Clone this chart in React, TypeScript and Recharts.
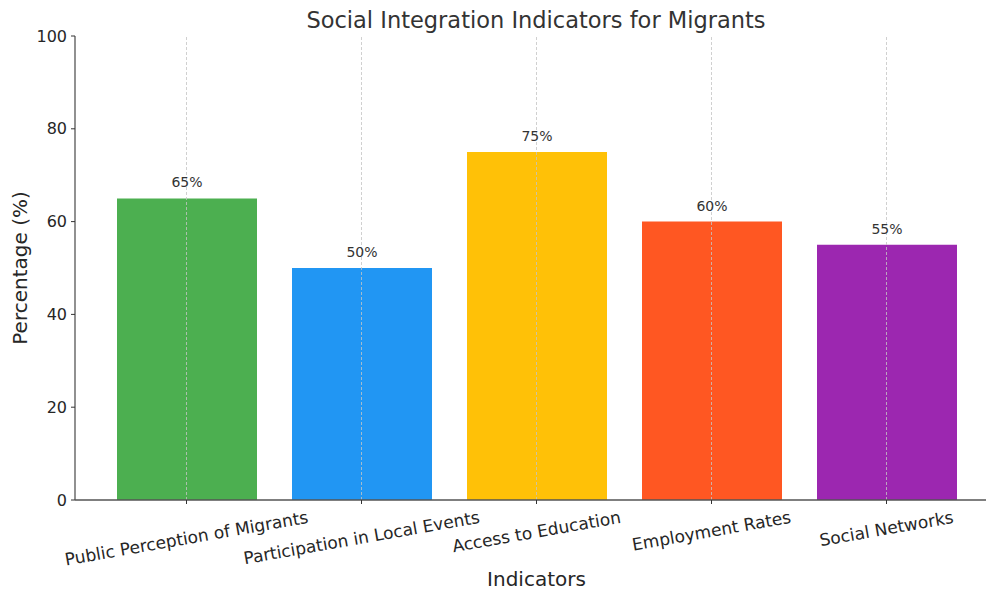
import { BarChart, Bar, XAxis, YAxis, Cell, LabelList, ReferenceLine } from 'recharts';

const categories = [
  'Public Perception of Migrants',
  'Participation in Local Events',
  'Access to Education',
  'Employment Rates',
  'Social Networks',
];
const values = [65, 50, 75, 60, 55];
const barColors = ['#4CAF50', '#2196F3', '#FFC107', '#FF5722', '#9C27B0'];
const yTicks = [0, 20, 40, 60, 80, 100];

const data = categories.map((name, i) => ({ name, value: values[i] }));

const FONT = '"DejaVu Sans", sans-serif';
const TICK_SIZE = 17;
const ROT = 10;

let measureCtx: CanvasRenderingContext2D | null = null;
const textWidth = (s: string) => {
  if (!measureCtx) measureCtx = document.createElement('canvas').getContext('2d');
  if (!measureCtx) return s.length * TICK_SIZE * 0.55;
  measureCtx.font = `${TICK_SIZE}px "DejaVu Sans"`;
  return measureCtx.measureText(s).width;
};

// matplotlib-like rotated label: bbox centred on tick, top of bbox just under the tick
const RotatedTick = (props: { x?: number; y?: number; payload?: { value: string } }) => {
  const { x = 0, y = 0, payload } = props;
  if (!payload) return null;
  const w = textWidth(payload.value);
  const rad = (ROT * Math.PI) / 180;
  const h = TICK_SIZE * 1.17;
  const cy = y + (w * Math.sin(rad) + h * Math.cos(rad)) / 2;
  return (
    <text
      x={x}
      y={cy}
      textAnchor="middle"
      dominantBaseline="central"
      fontSize={TICK_SIZE}
      fill="#262626"
      transform={`rotate(${-ROT}, ${x}, ${cy})`}
    >
      {payload.value}
    </text>
  );
};

export default function App() {
  return (
    <div style={{ position: 'absolute', left: 0, top: 0, width: 986, height: 592, fontFamily: FONT, background: '#fff' }}>
      <div
        style={{
          position: 'absolute', left: 75, width: 922, top: 6, lineHeight: '28px',
          textAlign: 'center', fontSize: 22.5, color: '#333',
        }}
      >
        Social Integration Indicators for Migrants
      </div>
      <BarChart width={986} height={592} data={data} margin={{ top: 36, right: 0, bottom: 0, left: 0 }} barCategoryGap={0}>
        <XAxis
          dataKey="name"
          height={92}
          padding={{ left: 24, right: 12 }}
          interval={0}
          tickSize={4}
          tickMargin={3}
          tickLine={{ stroke: '#333' }}
          axisLine={{ stroke: '#555', strokeWidth: 1.3 }}
          tick={<RotatedTick />}
          label={{ value: 'Indicators', position: 'insideBottom', offset: 6, dx: 6, fontSize: 20, fill: '#262626' }}
        />
        <YAxis
          width={75}
          domain={[0, 100]}
          ticks={yTicks}
          tickSize={4}
          tickMargin={4}
          tick={{ fontSize: 16, fill: '#262626' }}
          tickLine={{ stroke: '#333' }}
          axisLine={{ stroke: '#555', strokeWidth: 1.3 }}
          label={{ value: 'Percentage (%)', angle: -90, position: 'insideLeft', offset: 20, fontSize: 20, fill: '#262626', style: { textAnchor: 'middle' } }}
        />
        <Bar dataKey="value" barSize={140} isAnimationActive={false}>
          {data.map((_, i) => (
            <Cell key={i} fill={barColors[i]} />
          ))}
          <LabelList dataKey="value" position="top" offset={11} fontSize={14} fill="#333" formatter={(v: number) => `${v}%`} />
        </Bar>
        {categories.map(c => (
          <ReferenceLine key={c} x={c} stroke="#c4c4c4" strokeDasharray="3 2" strokeWidth={0.8} />
        ))}
      </BarChart>
    </div>
  );
}
